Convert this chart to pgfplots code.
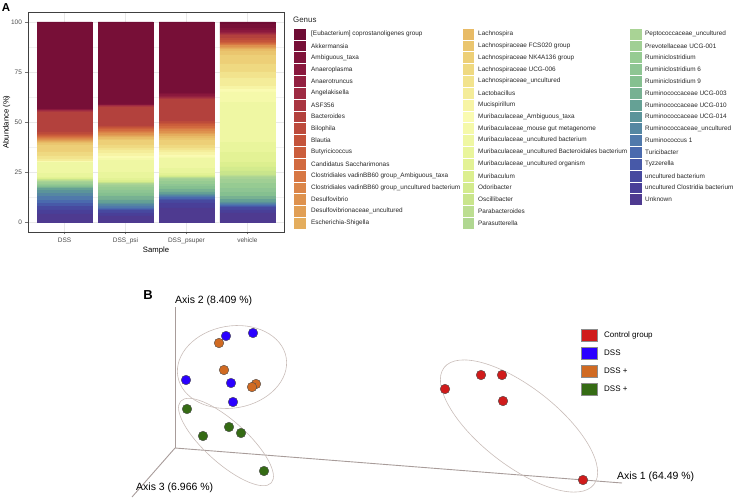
\documentclass[border=0pt]{standalone}
\usepackage{pgfplots}
\pgfplotsset{compat=1.18}
\usepackage{fontspec}
\setmainfont{Liberation Sans}
\newcommand\fs[1]{\fontsize{#1}{#1}\selectfont}

% genus palette (top of stack -> bottom)
\definecolor{c1}{HTML}{6E0C34}\definecolor{c2}{HTML}{770F37}\definecolor{c3}{HTML}{80133A}
\definecolor{c4}{HTML}{8A183D}\definecolor{c5}{HTML}{932040}\definecolor{c6}{HTML}{9E2A42}
\definecolor{c7}{HTML}{A93541}\definecolor{c8}{HTML}{B3413D}\definecolor{c9}{HTML}{BC4A3B}
\definecolor{c10}{HTML}{C4533A}\definecolor{c11}{HTML}{CB5D3B}\definecolor{c12}{HTML}{D26A3F}
\definecolor{c13}{HTML}{D77744}\definecolor{c14}{HTML}{DB8549}\definecolor{c15}{HTML}{DE924E}
\definecolor{c16}{HTML}{E19F55}\definecolor{c17}{HTML}{E4AD5D}\definecolor{c18}{HTML}{E8BB66}
\definecolor{c19}{HTML}{EAC56E}\definecolor{c20}{HTML}{EDCF77}\definecolor{c21}{HTML}{EFD981}
\definecolor{c22}{HTML}{F2E38D}\definecolor{c23}{HTML}{F4EC99}\definecolor{c24}{HTML}{F7F4A5}
\definecolor{c25}{HTML}{FAFBB2}\definecolor{c26}{HTML}{F5F9AA}\definecolor{c27}{HTML}{EFF7A3}
\definecolor{c28}{HTML}{E9F59C}\definecolor{c29}{HTML}{E3F295}\definecolor{c30}{HTML}{DCEF8F}
\definecolor{c31}{HTML}{D3EB8D}\definecolor{c32}{HTML}{C9E58C}\definecolor{c33}{HTML}{BCDE91}
\definecolor{c34}{HTML}{B0D791}\definecolor{c35}{HTML}{A9D395}\definecolor{c36}{HTML}{A0CF94}
\definecolor{c37}{HTML}{96CB92}\definecolor{c38}{HTML}{8EC593}\definecolor{c39}{HTML}{85C090}
\definecolor{c40}{HTML}{77B192}\definecolor{c41}{HTML}{65A195}\definecolor{c42}{HTML}{5B949A}
\definecolor{c43}{HTML}{5587A2}\definecolor{c44}{HTML}{5079AB}\definecolor{c45}{HTML}{4A6AAE}
\definecolor{c46}{HTML}{4759A8}\definecolor{c47}{HTML}{47499F}\definecolor{c48}{HTML}{493F98}
\definecolor{c49}{HTML}{4E3A90}

\definecolor{ctrl}{HTML}{D01B1B}
\definecolor{dss}{HTML}{2A00FF}
\definecolor{dssa}{HTML}{D06A22}
\definecolor{dssb}{HTML}{356B14}
\definecolor{axline}{HTML}{A89C9A}
\definecolor{ellc}{HTML}{C9BDB9}

% one stacked segment: fill and edge in the same colour, so no seams
\pgfplotsset{seg/.style={fill=#1, draw=#1, line width=0.3pt}}

\begin{document}
\begin{tikzpicture}
\path[use as bounding box] (0,0) rectangle (754pt,-502pt);

% ---------------- panel B (PCoA), drawn in pixel coordinates
\begin{axis}[at={(0pt,0pt)}, anchor=north west, x=1pt, y=1pt,
  xmin=0, xmax=754, ymin=0, ymax=502, y dir=reverse, hide axis, clip=false]
\addplot[axline, line width=0.9pt] coordinates {(175,448) (175,307)};
\addplot[axline, line width=0.9pt] coordinates {(175,448) (622,483)};
\addplot[axline, line width=0.9pt] coordinates {(175,448) (132,497)};

\draw[ellc, line width=0.6pt, rotate around={10:(axis cs:232,367)}] (axis cs:232,367) ellipse [x radius=55pt, y radius=41pt];
\draw[ellc, line width=0.6pt, rotate around={-42:(axis cs:226,442)}] (axis cs:226,442) ellipse [x radius=61pt, y radius=21pt];
\draw[ellc, line width=0.6pt, rotate around={-38:(axis cs:519,426)}] (axis cs:519,426) ellipse [x radius=95pt, y radius=39pt];

\addplot[only marks, mark=*, mark size=4.8pt, mark options={fill=dss, draw=black!70, line width=0.4pt}]
  coordinates {(226,336) (253,333) (186,380) (231,383) (233,402)};
\addplot[only marks, mark=*, mark size=4.8pt, mark options={fill=dssa, draw=black!70, line width=0.4pt}]
  coordinates {(219,343) (224,370) (256,384) (252,387)};
\addplot[only marks, mark=*, mark size=4.8pt, mark options={fill=dssb, draw=black!70, line width=0.4pt}]
  coordinates {(187,409) (203,436) (229,427) (241,433) (264,471)};
\addplot[only marks, mark=*, mark size=4.8pt, mark options={fill=ctrl, draw=black!70, line width=0.4pt}]
  coordinates {(445,389) (481,375) (502,375) (503,401) (583,480)};

\node[anchor=west, inner sep=0, font=\fs{10.5}] at (axis cs:175,301) {Axis 2 (8.409 \%)};
\node[anchor=west, inner sep=0, font=\fs{10.5}] at (axis cs:136,488) {Axis 3 (6.966 \%)};
\node[anchor=west, inner sep=0, font=\fs{10.5}] at (axis cs:617,477) {Axis 1 (64.49 \%)};
\node[font=\bfseries\fs{13}] at (axis cs:148,295) {B};

\draw[fill=ctrl, draw=black!45, line width=0.4pt] (axis cs:581,329) rectangle (axis cs:597,341);
\draw[fill=dss, draw=black!45, line width=0.4pt] (axis cs:581,347) rectangle (axis cs:597,359);
\draw[fill=dssa, draw=black!45, line width=0.4pt] (axis cs:581,365) rectangle (axis cs:597,377);
\draw[fill=dssb, draw=black!45, line width=0.4pt] (axis cs:581,383) rectangle (axis cs:597,395);
\node[anchor=west, inner sep=0, font=\fs{8}] at (axis cs:604,335) {Control group};
\node[anchor=west, inner sep=0, font=\fs{8}] at (axis cs:604,353) {DSS};
\node[anchor=west, inner sep=0, font=\fs{8}] at (axis cs:604,371) {DSS +};
\node[anchor=west, inner sep=0, font=\fs{8}] at (axis cs:604,389) {DSS +};
\end{axis}

% ---------------- panel A (stacked genus abundance)
\begin{axis}[at={(28pt,-232pt)}, anchor=south west,
  width=256pt, height=220pt, scale only axis,
  ybar stacked, bar width=0.9,
  xmin=-0.6, xmax=3.6, ymin=-5, ymax=105,
  xtick={0,1,2,3}, xticklabels={DSS,DSS\_psi,DSS\_psuper,vehicle},
  ytick={0,25,50,75,100}, minor ytick={12.5,37.5,62.5,87.5},
  grid=both, major grid style={draw=black!9, line width=0.5pt},
  minor grid style={draw=black!5, line width=0.3pt},
  axis line style={draw=black!75, line width=0.8pt},
  tick align=outside, tick pos=left, major tick length=2.5pt, minor tick length=0pt,
  every tick/.style={draw=black!55, line width=0.5pt},
  ticklabel style={font=\fs{6.5}, text=black!70},
  /pgf/number format/assume math mode=true,
  xlabel={Sample}, ylabel={Abundance (\%)},
  label style={font=\fs{7.7}},
  xlabel style={yshift=4pt}, ylabel style={yshift=-6pt},
]
\addplot[seg=c49] coordinates {(0,4) (1,3) (2,7) (3,4.5)}; % Unknown
\addplot[seg=c48] coordinates {(0,2) (1,1.5) (2,2.5) (3,1.5)};
\addplot[seg=c47] coordinates {(0,1.7) (1,1.2) (2,1.5) (3,1.2)};
\addplot[seg=c46] coordinates {(0,1.5) (1,0.6) (2,0.6) (3,0.5)};
\addplot[seg=c45] coordinates {(0,1.5) (1,0.8) (2,0.6) (3,0.5)};
\addplot[seg=c44] coordinates {(0,2) (1,1) (2,0.8) (3,0.8)};
\addplot[seg=c43] coordinates {(0,1.5) (1,0.7) (2,0.5) (3,0.6)};
\addplot[seg=c42] coordinates {(0,1.5) (1,0.7) (2,0.5) (3,0.4)};
\addplot[seg=c41] coordinates {(0,1) (1,1.5) (2,1) (3,1.2)};
\addplot[seg=c40] coordinates {(0,0.8) (1,2) (2,1.5) (3,1.5)};
\addplot[seg=c39] coordinates {(0,0.5) (1,1.5) (2,1.2) (3,2)};
\addplot[seg=c38] coordinates {(0,0.5) (1,1.5) (2,1.2) (3,2)};
\addplot[seg=c37] coordinates {(0,0.6) (1,1.5) (2,1.5) (3,2.5)};
\addplot[seg=c36] coordinates {(0,0.8) (1,0.8) (2,0.8) (3,2)};
\addplot[seg=c35] coordinates {(0,0.4) (1,0.6) (2,0.5) (3,1)};
\addplot[seg=c34] coordinates {(0,0.3) (1,0.3) (2,0.3) (3,0.7)};
\addplot[seg=c33] coordinates {(0,0.4) (1,0.4) (2,0.4) (3,0.6)};
\addplot[seg=c32] coordinates {(0,0.2) (1,0.2) (2,0.2) (3,2)};
\addplot[seg=c31] coordinates {(0,0.1) (1,0.2) (2,0.1) (3,2)};
\addplot[seg=c30] coordinates {(0,0.5) (1,0.7) (2,0.5) (3,2.2)};
\addplot[seg=c29] coordinates {(0,0.5) (1,1) (2,1) (3,5)};
\addplot[seg=c28] coordinates {(0,2) (1,3) (2,2.5) (3,5)};
\addplot[seg=c27] coordinates {(0,5.5) (1,6) (2,5) (3,20)};
\addplot[seg=c26] coordinates {(0,0.2) (1,1) (2,0.8) (3,5.3)};
\addplot[seg=c25] coordinates {(0,0.2) (1,1.2) (2,1) (3,1.2)};
\addplot[seg=c24] coordinates {(0,0.3) (1,1.5) (2,1.5) (3,1.5)};
\addplot[seg=c23] coordinates {(0,1) (1,1.6) (2,1) (3,4.3)};
\addplot[seg=c22] coordinates {(0,1.5) (1,1) (2,1) (3,3)};
\addplot[seg=c21] coordinates {(0,2) (1,1.5) (2,1.5) (3,4)};
\addplot[seg=c20] coordinates {(0,3.5) (1,2.2) (2,2.5) (3,4.5)};
\addplot[seg=c19] coordinates {(0,0.8) (1,0.8) (2,1) (3,2)};
\addplot[seg=c18] coordinates {(0,0.7) (1,0.7) (2,0.8) (3,0.8)};
\addplot[seg=c17] coordinates {(0,0.5) (1,0.8) (2,1) (3,0.5)};
\addplot[seg=c16] coordinates {(0,0.4) (1,0.6) (2,0.8) (3,0.6)};
\addplot[seg=c15] coordinates {(0,0.6) (1,0.8) (2,1) (3,0.8)};
\addplot[seg=c14] coordinates {(0,0.5) (1,0.6) (2,0.8) (3,0.4)};
\addplot[seg=c13] coordinates {(0,0.4) (1,0.5) (2,0.7) (3,0.4)};
\addplot[seg=c12] coordinates {(0,0.6) (1,0.8) (2,1) (3,0.5)};
\addplot[seg=c11] coordinates {(0,0.5) (1,0.7) (2,0.8) (3,0.6)};
\addplot[seg=c10] coordinates {(0,0.5) (1,0.5) (2,0.6) (3,0.8)};
\addplot[seg=c9] coordinates {(0,1) (1,0.5) (2,0.7) (3,0.8)};
\addplot[seg=c8] coordinates {(0,10) (1,9.5) (2,11) (3,1.8)}; % Bacteroides
\addplot[seg=c7] coordinates {(0,0.5) (1,0.4) (2,0.8) (3,0.5)};
\addplot[seg=c6] coordinates {(0,0.3) (1,0.3) (2,0.5) (3,0.5)};
\addplot[seg=c5] coordinates {(0,0.2) (1,0.2) (2,0.5) (3,0.5)};
\addplot[seg=c4] coordinates {(0,0.2) (1,0.1) (2,1) (3,1)};
\addplot[seg=c3] coordinates {(0,0.3) (1,0.5) (2,0.5) (3,1)};
\addplot[seg=c2] coordinates {(0,43) (1,40.5) (2,35) (3,2)}; % Akkermansia
\addplot[seg=c1] coordinates {(0,0.5) (1,0.5) (2,0.5) (3,1)};
\end{axis}

\node[font=\bfseries\fs{11.5}] at (6pt,-7.5pt) {A};

% legend of panel A
\node[anchor=west, inner sep=0, font=\fs{7.9}, text=black!85] at (293pt,-20pt) {Genus};
\foreach \nm [count=\r from 0] in {{[Eubacterium] coprostanoligenes group},Akkermansia,Ambiguous\_taxa,Anaeroplasma,Anaerotruncus,Angelakisella,ASF356,Bacteroides,Bilophila,Blautia,Butyricicoccus,Candidatus Saccharimonas,Clostridiales vadinBB60 group\_Ambiguous\_taxa,Clostridiales vadinBB60 group\_uncultured bacterium,Desulfovibrio,Desulfovibrionaceae\_uncultured,Escherichia-Shigella}{
  \pgfmathtruncatemacro\k{\r+1}
  \fill[fill=c\k, draw=white, line width=0.3pt] (293pt,{-(28+11.82*\r)*1pt}) rectangle (306pt,{-(28+11.82*(\r+1))*1pt});
  \node[anchor=west, inner sep=0, font=\fs{6.4}, text=black!85] at (311pt,{-(28+11.82*\r+5.91)*1pt}) {\nm};
}
\foreach \nm [count=\r from 0] in {Lachnospira,Lachnospiraceae FCS020 group,Lachnospiraceae NK4A136 group,Lachnospiraceae UCG-006,Lachnospiraceae\_uncultured,Lactobacillus,Mucispirillum,Muribaculaceae\_Ambiguous\_taxa,Muribaculaceae\_mouse gut metagenome,Muribaculaceae\_uncultured bacterium,Muribaculaceae\_uncultured Bacteroidales bacterium,Muribaculaceae\_uncultured organism,Muribaculum,Odoribacter,Oscillibacter,Parabacteroides,Parasutterella}{
  \pgfmathtruncatemacro\k{\r+18}
  \fill[fill=c\k, draw=white, line width=0.3pt] (462pt,{-(28+11.82*\r)*1pt}) rectangle (474pt,{-(28+11.82*(\r+1))*1pt});
  \node[anchor=west, inner sep=0, font=\fs{6.4}, text=black!85] at (478pt,{-(28+11.82*\r+5.91)*1pt}) {\nm};
}
\foreach \nm [count=\r from 0] in {Peptococcaceae\_uncultured,Prevotellaceae UCG-001,Ruminiclostridium,Ruminiclostridium 6,Ruminiclostridium 9,Ruminococcaceae UCG-003,Ruminococcaceae UCG-010,Ruminococcaceae UCG-014,Ruminococcaceae\_uncultured,Ruminococcus 1,Turicibacter,Tyzzerella,uncultured bacterium,uncultured Clostridia bacterium,Unknown}{
  \pgfmathtruncatemacro\k{\r+35}
  \fill[fill=c\k, draw=white, line width=0.3pt] (629pt,{-(28+11.82*\r)*1pt}) rectangle (642pt,{-(28+11.82*(\r+1))*1pt});
  \node[anchor=west, inner sep=0, font=\fs{6.4}, text=black!85] at (645pt,{-(28+11.82*\r+5.91)*1pt}) {\nm};
}
\end{tikzpicture}
\end{document}
